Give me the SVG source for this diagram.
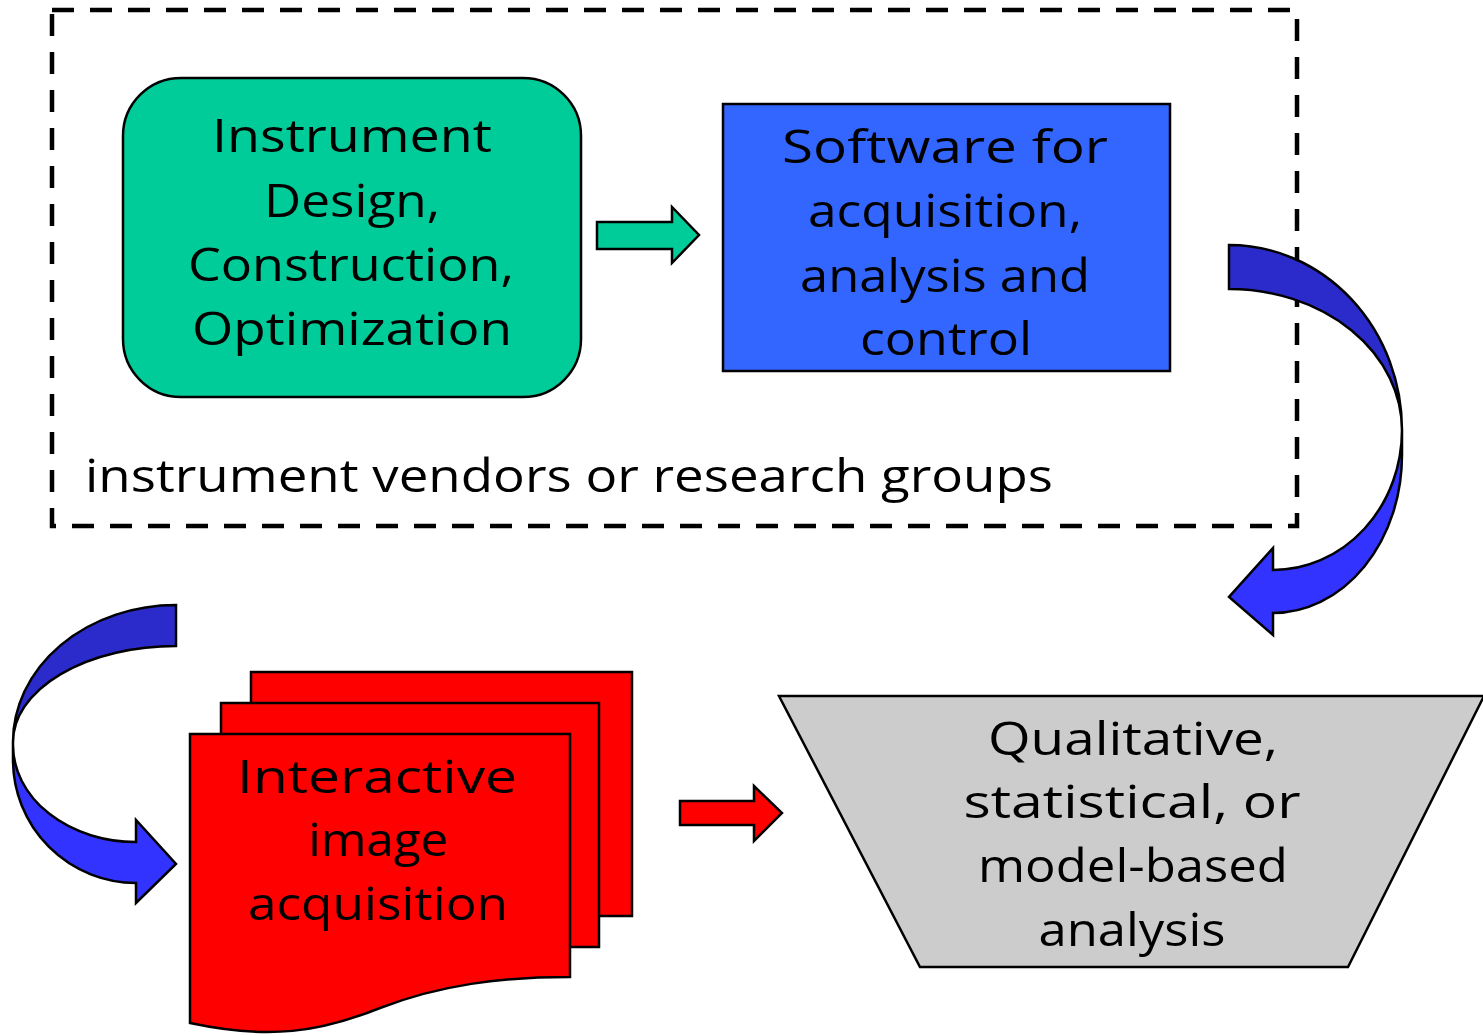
<svg xmlns="http://www.w3.org/2000/svg" width="1483" height="1036" viewBox="0 0 1483 1036">
  <style>
    .lbl { font-family: "Comic Sans MS", "Open Sans", "DejaVu Sans", sans-serif; font-size: 46px; fill: #000; text-anchor: middle; }
    .edge { stroke: #000; stroke-width: 2.5; stroke-linejoin: miter; }
    .dark { fill: #2B2BCC; }
    .bright { fill: #3333FF; }
  </style>
  <rect width="1483" height="1036" fill="#fff"/>

  <!-- group boundary: vendors / research groups -->
  <g id="vendor-group">
    <rect x="52" y="10" width="1245" height="516" fill="none" stroke="#000" stroke-width="4.5" stroke-dasharray="22 16"/>
    <text class="lbl" x="569" y="492" textLength="968" lengthAdjust="spacingAndGlyphs">instrument vendors or research groups</text>
  </g>

  <g id="instrument-design">
    <rect x="123" y="78" width="458" height="319" rx="58" ry="58" fill="#00CC99" class="edge"/>
    <text class="lbl" x="352" y="152" textLength="280" lengthAdjust="spacingAndGlyphs">Instrument</text>
    <text class="lbl" x="352" y="217" textLength="176" lengthAdjust="spacingAndGlyphs">Design,</text>
    <text class="lbl" x="351" y="281" textLength="326" lengthAdjust="spacingAndGlyphs">Construction,</text>
    <text class="lbl" x="352" y="345" textLength="320" lengthAdjust="spacingAndGlyphs">Optimization</text>
  </g>

  <g id="software">
    <rect x="723" y="104" width="447" height="267" fill="#3366FF" class="edge"/>
    <text class="lbl" x="945" y="163" textLength="326" lengthAdjust="spacingAndGlyphs">Software for</text>
    <text class="lbl" x="945" y="227" textLength="274" lengthAdjust="spacingAndGlyphs">acquisition,</text>
    <text class="lbl" x="945" y="292" textLength="290" lengthAdjust="spacingAndGlyphs">analysis and</text>
    <text class="lbl" x="946" y="355" textLength="172" lengthAdjust="spacingAndGlyphs">control</text>
  </g>

  <g id="image-acquisition">
    <rect x="251" y="672" width="381" height="244" fill="#FF0000" class="edge"/>
    <rect x="221" y="703" width="378" height="244" fill="#FF0000" class="edge"/>
    <path d="M190,734 L570,734 L570,977 C500,977 440,985 380,1008 C320,1032 270,1040 190,1023 Z" fill="#FF0000" class="edge"/>
    <text class="lbl" x="377" y="793" textLength="280" lengthAdjust="spacingAndGlyphs">Interactive</text>
    <text class="lbl" x="378" y="856" textLength="140" lengthAdjust="spacingAndGlyphs">image</text>
    <text class="lbl" x="378" y="920" textLength="260" lengthAdjust="spacingAndGlyphs">acquisition</text>
  </g>

  <g id="analysis">
    <path d="M779,696 L1484,696 L1348,967 L920,967 Z" fill="#CCCCCC" class="edge"/>
    <text class="lbl" x="1133" y="755" textLength="290" lengthAdjust="spacingAndGlyphs">Qualitative,</text>
    <text class="lbl" x="1132" y="818" textLength="337" lengthAdjust="spacingAndGlyphs">statistical, or</text>
    <text class="lbl" x="1133" y="882" textLength="310" lengthAdjust="spacingAndGlyphs">model-based</text>
    <text class="lbl" x="1132" y="946" textLength="187" lengthAdjust="spacingAndGlyphs">analysis</text>
  </g>

  <g id="connectors">
    <!-- straight block arrows -->
    <path d="M597,222 L672,222 L672,207 L699,235 L672,263 L672,249 L597,249 Z" fill="#00CC99" class="edge"/>
    <path d="M680,801 L754,801 L754,786 L782,813 L754,841 L754,825 L680,825 Z" fill="#FF0000" class="edge"/>

    <!-- curved arrow: software to analysis -->
    <path d="M1402,430 L1402,455 A129,158 0 0 1 1273,613 L1273,635 L1229,597 L1273,548 L1273,570 A129,140 0 0 0 1402,430 Z" class="bright edge"/>
    <path d="M1229,245 A173,185 0 0 1 1402,430 A173,141 0 0 0 1229,289 Z" class="dark edge"/>

    <!-- curved arrow: into image acquisition -->
    <path d="M13,742 L13,760 A123,123 0 0 0 136,883 L136,903 L176,864 L136,820 L136,842 A123,97 0 0 1 13,745 Z" class="bright edge"/>
    <path d="M176,605 A163,137 0 0 0 13,742 A163,96 0 0 1 176,646 Z" class="dark edge"/>
  </g>
</svg>
